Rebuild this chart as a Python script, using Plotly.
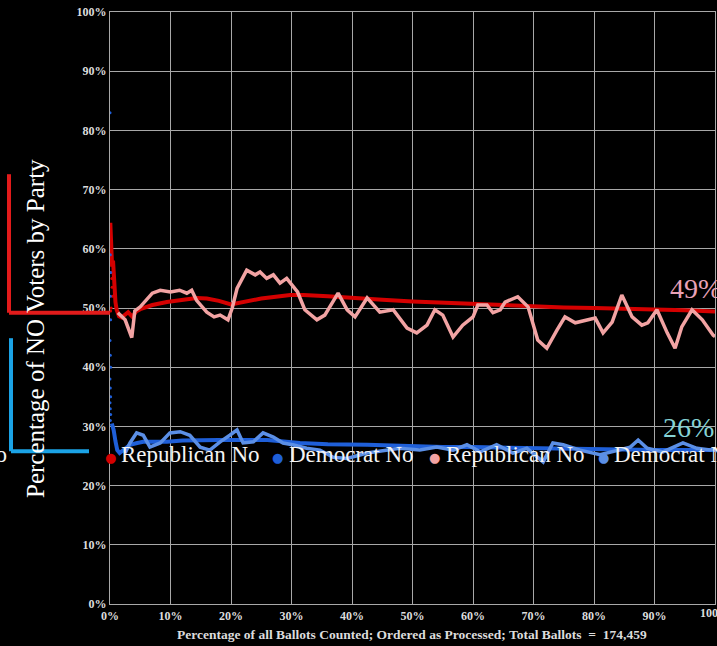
import plotly.graph_objects as go

# ---------------- data ----------------
rep_cum_x = [0.05, 0.15, 0.25, 0.35, 0.5, 0.7, 0.9, 1.1, 1.5, 1.9, 2.5, 3.0, 3.7, 4.3, 5, 7, 9.4, 12, 14.3,
             16, 18, 20, 21, 22, 25, 29.8, 32, 36, 40, 45, 50, 55, 60, 65, 70, 75, 80, 85, 90, 95, 100]
rep_cum_y = [64.4, 60, 62, 57, 58, 53, 51, 49.7, 48.6, 48.4, 48.8, 49.3, 48.5, 49.4, 49.8, 50.5, 51, 51.3, 51.7,
             51.6, 51.2, 50.6, 50.8, 51.1, 51.6, 52.2, 52.2, 52, 51.8, 51.4, 51.1, 50.9, 50.6, 50.5, 50.3, 50.1,
             50.0, 49.9, 49.8, 49.6, 49.4]

dem_cum_x = [0.3, 0.6, 0.9, 1.2, 1.6, 2.2, 3.3, 4.5, 5.5, 7, 9.4, 12, 14.9, 18, 21.5, 26, 31.4, 36, 42.5,
             49.6, 55, 60, 65, 70, 75, 80, 85, 90, 95, 100]
dem_cum_y = [30.5, 29.4, 27.5, 26.0, 25.5, 26.0, 26.9, 27.2, 27.4, 27.4, 27.4, 27.6, 27.7, 27.7, 27.7, 27.7,
             27.2, 27.0, 26.9, 26.6, 26.5, 26.5, 26.4, 26.3, 26.3, 26.2, 26.1, 26.0, 26.0, 26.0]

# scattered early points at the very start of the count
rep_early_x = [0.05, 0.1, 0.15, 0.2, 0.25, 0.3, 0.35, 0.4, 0.2, 0.1]
rep_early_y = [63, 61, 59.5, 58, 56, 55, 53.5, 52, 50, 49.5]
dem_early_x = [0.0, 0.05, 0.1, 0.05, 0.1, 0.0, 0.05, 0.1, 0.0, 0.05, 0.1, 0.0, 0.05, 0.1, 0.05]
dem_early_y = [83, 59, 56, 52, 48, 44.5, 42, 40, 38, 36.5, 35, 34, 33, 32, 31]

rep_inst_x = [1.3, 2.5, 3.6, 4.1, 5, 6, 7, 8.3, 10, 11.5, 12.7, 13.5, 14.3, 16, 17.2, 18.2, 19.5, 20.2, 21,
              22.6, 24, 24.8, 25.9, 27, 28.1, 29.2, 30.2, 31, 32.2, 34.2, 35.5, 37.7, 39.2, 40.5, 42.5, 44.6,
              46.8, 49.1, 50.7, 52.4, 53.7, 55, 56.7, 58.3, 60, 60.8, 62.3, 63.3, 64.5, 65.3, 67.4, 69.1, 70.7,
              72.2, 73.9, 75.2, 76.9, 79, 80.2, 81.5, 83, 84.6, 86.3, 87.9, 88.9, 90.4, 92.1, 93.4, 94.5, 96.2,
              97.9, 99.7, 100]
rep_inst_y = [49.2, 48, 45, 49.5, 50.2, 51.3, 52.5, 53, 52.7, 53, 52.5, 53, 51.3, 49.3, 48.5, 48.8, 48, 50,
              53.3, 56.4, 55.6, 56.1, 55, 55.6, 54.2, 55, 53.6, 52.7, 49.7, 48, 48.8, 52.5, 49.7, 48.5, 51.7,
              49.3, 49.7, 46.6, 45.8, 47.1, 49.7, 48.8, 45.1, 47.1, 48.5, 50.5, 50.5, 49.2, 49.7, 51, 51.9,
              50.2, 44.6, 43.2, 46.3, 48.5, 47.5, 48, 48.3, 45.8, 47.6, 52.2, 48.5, 47.1, 47.5, 49.7, 45.8,
              43.2, 46.8, 49.7, 48, 45.4, 45.2]

dem_inst_x = [2.5, 3.3, 4.4, 5.5, 6.6, 8.3, 9.9, 11.6, 13.2, 14.9, 16.5, 18.2, 19.8, 21, 22, 23.7, 25.3, 27,
              28.6, 30.2, 32.5, 34.7, 36.9, 39.2, 42.5, 45.8, 47.9, 51.2, 54, 56.7, 59, 61.2, 63.9, 66.6, 68.9,
              71.6, 73.2, 74.9, 77.7, 81, 83.8, 86, 87.3, 88.8, 91.4, 94.7, 97, 99.2, 100]
dem_inst_y = [25.5, 27.2, 28.9, 28.5, 26.5, 27.2, 28.9, 29.1, 28.5, 26.5, 26, 27.4, 28.5, 29.4, 27.2, 27.4,
              28.9, 28.2, 27.2, 26.9, 26.3, 26, 24.8, 24.6, 25.5, 26, 26.3, 26, 26.5, 26, 26.9, 25.7, 26.9,
              25.5, 26.3, 24, 27.2, 26.9, 26, 25.2, 26, 26.5, 27.7, 26.3, 25.7, 27.2, 26.3, 26, 26.3]

tick_vals = [0, 10, 20, 30, 40, 50, 60, 70, 80, 90, 100]
tick_text = ["0%", "10%", "20%", "30%", "40%", "50%", "60%", "70%", "80%", "90%", "100%"]

series_names = ["Republican No", "Democrat No", "Republican No", "Democrat No"]
final_rep_label = "49%"
final_dem_label = "26%"
rep_bracket = [49.2, 72.6]   # y-range of the red bracket
dem_bracket = [25.8, 44.9]   # y-range of the blue bracket

RED, BLUE, PINK, LBLUE = "#d40000", "#1f5fd8", "#f2a3a3", "#5b8fe6"
SERIF = "Liberation Serif, Times New Roman, serif"
TICKFONT = dict(family=SERIF, size=12, color="#dcdcdc", weight="bold")

# ---------------- figure ----------------
W, H = 717, 646
L, R, T, B = 110, 2, 12, 42
PW, PH = W - L - R, H - T - B


def px(x):
    return (x - L) / PW


def py(y):
    return (H - B - y) / PH


fig = go.Figure()
fig.add_trace(go.Scatter(x=rep_cum_x, y=rep_cum_y, mode="lines", line=dict(color=RED, width=4),
                         name=series_names[0], showlegend=False))
fig.add_trace(go.Scatter(x=rep_early_x, y=rep_early_y, mode="markers", marker=dict(color=RED, size=3),
                         showlegend=False))
fig.add_trace(go.Scatter(x=dem_cum_x, y=dem_cum_y, mode="lines", line=dict(color=BLUE, width=4),
                         name=series_names[1], showlegend=False))
fig.add_trace(go.Scatter(x=dem_early_x, y=dem_early_y, mode="markers", marker=dict(color=BLUE, size=3),
                         showlegend=False))
fig.add_trace(go.Scatter(x=rep_inst_x, y=rep_inst_y, mode="lines", line=dict(color=PINK, width=3.5),
                         name=series_names[2], showlegend=False))
fig.add_trace(go.Scatter(x=dem_inst_x, y=dem_inst_y, mode="lines", line=dict(color=LBLUE, width=3.5),
                         name=series_names[3], showlegend=False))

axis_common = dict(range=[0, 100], tickvals=tick_vals, ticktext=tick_text,
                   showgrid=True, gridcolor="#a8a8a8", gridwidth=1.3, zeroline=False,
                   showline=True, linecolor="#a8a8a8", linewidth=1.3, mirror=True,
                   tickfont=TICKFONT, ticks="")
fig.update_xaxes(**axis_common)
fig.update_yaxes(**axis_common)


def ann(text, x, y, size, color, xanchor="center", **kw):
    return dict(text=text, xref="paper", yref="paper", x=px(x), y=py(y), xanchor=xanchor,
                yanchor="middle", showarrow=False, font=dict(family=kw.pop("family", SERIF), size=size,
                                                               color=color, weight=kw.pop("weight", "normal")),
                **kw)


annotations = [
    ann("Percentage of NO Voters by Party", 35, 329, 25, "#ffffff", textangle=-90),
    ann("Percentage of all Ballots Counted; Ordered as Processed; Total Ballots  =  174,459",
        412, 634, 13.5, "#dcdcdc", weight="bold"),
    ann(final_rep_label, 668, 288, 28, "#e9a2b8", xanchor="left"),
    ann(final_dem_label, 661, 427, 28, "#85d3d6", xanchor="left"),
    ann("No", 9, 455, 23, "#f4f4f4", xanchor="right"),
    # last x tick label, cut by the right edge of the picture
    ann(tick_text[-1], 715, 613, 12, "#dcdcdc", weight="bold"),
]
# manual legend row
legend_dots = [110, 277, 434, 603]
legend_text_x = [119, 287, 444, 612]
legend_colors = [RED, BLUE, PINK, LBLUE]
for name, dx, tx, c in zip(series_names, legend_dots, legend_text_x, legend_colors):
    annotations.append(ann("●", dx, 457, 13, c, family="DejaVu Sans"))
    annotations.append(ann(name, tx, 455, 23, "#f4f4f4", xanchor="left"))

shapes = [
    dict(type="line", xref="paper", yref="y", x0=px(9), x1=px(9), y0=rep_bracket[0], y1=rep_bracket[1],
         line=dict(color="#e21b1b", width=4)),
    dict(type="line", xref="paper", yref="y", x0=px(9), x1=0, y0=rep_bracket[0], y1=rep_bracket[0],
         line=dict(color="#e21b1b", width=4)),
    dict(type="line", xref="paper", yref="y", x0=px(11), x1=px(11), y0=dem_bracket[0], y1=dem_bracket[1],
         line=dict(color="#1ba3e6", width=4)),
    dict(type="line", xref="paper", yref="y", x0=px(11), x1=px(89), y0=dem_bracket[0], y1=dem_bracket[0],
         line=dict(color="#1ba3e6", width=4)),
]

fig.update_layout(width=W, height=H, margin=dict(l=L, r=R, t=T, b=B, pad=0, autoexpand=False),
                  paper_bgcolor="#000000", plot_bgcolor="#000000", showlegend=False,
                  annotations=annotations, shapes=shapes)

fig.write_html("out.html", config={"displayModeBar": False},
               post_script="document.body.style.margin='0';document.body.style.background='#000';"
                           "document.body.style.overflow='hidden';")
